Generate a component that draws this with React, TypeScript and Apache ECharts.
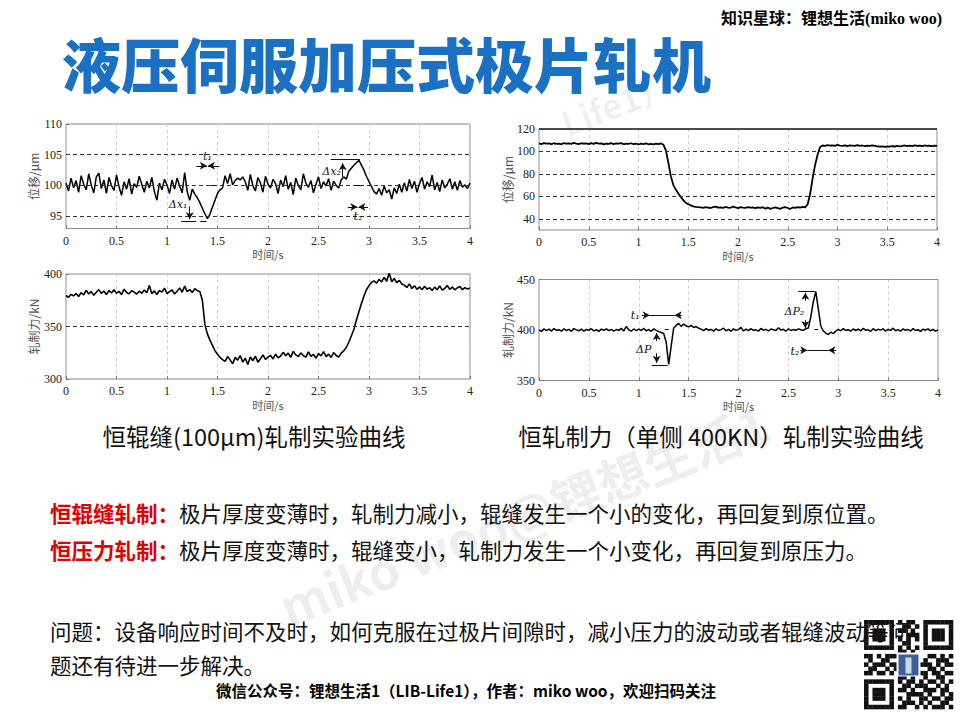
import React, { useEffect, useRef } from "react";
import * as echarts from "echarts";

// ---------- data ----------
const sampleStep = 0.025; // s between samples, t = 0 … 4 s
const timeMin = 0;
const timeMax = 4;
const timeInterval = 0.5;

// 恒辊缝 : 位移 / μm
const gapModeDisp = [
  100.4, 99.1, 101.2, 99.6, 100.8, 98.9, 101.6, 100.2, 99.3, 101.9,
  100.1, 98.8, 101.4, 102.0, 99.5, 100.9, 98.7, 101.3, 100.0, 99.2,
  101.7, 99.8, 98.4, 100.6, 99.4, 101.1, 98.6, 100.3, 99.7, 101.5,
  100.2, 98.9, 100.7, 99.6, 101.3, 99.0, 97.6, 100.4, 99.3, 101.0,
  100.1, 98.7, 100.9, 99.4, 101.2, 99.9, 98.8, 102.1,
  99.0, 97.6, 99.4, 98.6, 98.0, 97.2, 96.3, 95.4, 94.6, 95.3,
  96.5, 97.6, 98.7, 99.3, 99.6, 101.6, 100.3, 101.9, 100.1, 100.8,
  101.2, 100.9, 101.4, 100.6, 99.2,
  101.8, 100.0, 99.1, 101.3, 100.4, 98.9, 101.5, 100.2, 99.6, 101.0,
  100.3, 98.7, 100.9, 99.8, 101.6, 99.4, 100.5, 98.5, 101.2, 100.0,
  99.3, 101.9, 100.4, 99.7, 100.8, 98.8, 100.2, 101.4, 99.5, 100.6,
  99.9, 101.1, 99.2, 100.7, 100.0,
  99.6, 100.9, 101.4, 101.0, 102.3, 102.8, 103.3, 103.7, 104.1, 103.3,
  102.5, 101.5, 100.6, 99.8, 99.0, 98.6,
  99.5, 98.4, 99.9, 98.8, 99.3, 97.8, 99.6, 98.7, 100.2, 98.9,
  100.4, 99.1, 101.0, 99.5, 100.7, 98.9, 100.3, 101.3, 99.4, 100.6,
  99.8, 101.7, 99.3, 100.5, 99.0, 100.9, 99.6, 100.2, 101.1, 99.4,
  100.6, 99.2, 100.8, 99.7, 100.1, 99.5, 100.4,
];

// 恒轧制力 : 位移 / μm
const forceModeDisp = [
  107.2, 106.6, 107.4, 106.9, 107.1, 106.5, 107.3, 106.8, 107.0, 106.4,
  107.5, 106.9, 107.2, 106.7, 107.6, 107.0, 106.6, 107.3, 106.9, 107.1,
  106.5, 107.4, 106.8, 107.7, 106.9, 107.2, 106.3, 107.0, 106.8, 107.4,
  106.6, 107.1, 106.9, 107.5, 106.4, 107.0, 106.7, 107.3, 106.5, 107.0,
  106.2, 106.9, 106.6, 107.1, 106.4, 106.8, 106.3, 106.9, 106.5, 107.2,
  106.0,
  101.0, 90.0, 78.0, 70.0, 66.0, 62.5, 59.5, 56.5, 54.3, 53.0,
  52.0, 51.0, 50.6, 50.3,
  50.1, 49.8, 50.4, 50.0, 49.6, 50.3, 50.8, 49.9, 50.2, 49.7,
  50.5, 50.0, 49.8, 50.9, 50.1, 49.5, 50.3, 50.0, 49.8, 50.4,
  49.9, 50.2, 49.4, 50.1, 49.7, 50.3, 49.0, 50.0, 48.8, 49.6,
  50.2, 49.5, 48.9, 49.9, 50.3, 49.6, 48.7, 50.1, 49.8, 50.4,
  49.9, 50.6, 50.2,
  53.0, 62.0, 76.0, 88.0, 97.0, 104.0, 105.3, 105.0,
  105.6, 105.1, 105.4, 104.9, 105.8, 105.2, 105.0, 105.5, 104.8, 105.3,
  105.1, 104.9, 105.6, 105.0, 105.3, 104.7, 105.2, 104.9, 105.4, 105.0,
  104.6, 104.2, 104.5, 104.0, 104.6, 104.3, 104.8, 104.4, 105.0, 104.6,
  104.9, 105.3, 104.7, 105.1, 104.8, 105.4, 104.9, 105.2, 104.7, 105.3,
  104.9, 105.2, 104.8, 105.1, 105.0,
];

// 恒辊缝 : 轧制力 / kN
const gapModeForce = [
  379.5, 377.8, 380.6, 379.2, 381.4, 378.6, 382.3, 380.1, 384.5, 381.0,
  383.2, 379.8, 382.6, 385.1, 381.5, 383.8, 380.4, 384.2, 382.0, 384.9,
  381.7, 383.5, 380.3, 385.6, 382.4, 381.1, 384.0, 382.8, 380.9, 383.6,
  381.6, 384.7, 382.1, 389.0, 381.2, 383.9, 380.5, 384.3, 382.7, 386.5,
  381.4, 383.2, 384.8, 380.9, 383.5, 386.8, 382.6, 388.4, 383.1, 385.2,
  382.4, 386.0, 384.1, 383.4,
  375.0, 352.0, 343.0, 337.0, 332.0, 327.0, 323.5, 320.5, 318.5,
  316.8, 321.4, 318.2, 314.5, 320.6, 317.9, 322.3, 316.1, 319.7, 313.8,
  320.9, 317.4, 321.8, 315.9, 319.3, 323.0, 318.6, 320.8, 322.4, 319.1,
  323.6, 320.2, 321.9, 325.4, 322.1, 324.7, 320.6, 326.3, 323.0, 321.5,
  324.9, 322.2, 320.8, 325.8, 321.6, 323.4, 319.9, 324.1, 322.0, 326.0,
  321.3, 323.7, 320.5, 325.2, 322.4, 321.0, 324.6, 326.8,
  330.0, 335.0, 341.0, 347.0, 356.0, 364.0, 372.0, 379.0, 385.0, 389.0,
  392.0,
  393.5, 391.2, 395.0, 392.4, 396.8, 393.1, 401.0, 392.6, 395.7, 391.8,
  393.9, 390.5, 389.4, 387.2, 390.6, 386.1, 388.9, 385.4, 387.8, 384.9,
  388.3, 385.6, 386.9, 384.2, 387.5, 385.0, 388.7, 384.6, 386.3, 389.1,
  385.4, 387.6, 384.8, 386.9, 388.2, 385.1, 387.0, 385.8, 386.6,
];

// 恒轧制力 : 轧制力 / kN
const forceModeForce = [
  400.2, 398.6, 401.1, 399.4, 400.8, 398.9, 401.5, 399.7, 400.3, 398.8,
  401.2, 399.5, 400.6, 398.7, 401.4, 400.1, 399.2, 401.0, 398.9, 400.5,
  399.8, 401.3, 399.0, 400.4, 398.6, 400.9, 399.6, 401.2, 399.3, 400.7,
  398.8, 400.5, 399.7, 401.6, 399.1, 403.5, 400.2, 398.9, 401.0, 399.4,
  400.8, 399.5, 401.7, 399.1, 400.5, 398.7, 401.2, 399.6,
  398.4, 397.5, 396.5, 388.0, 366.0, 384.0, 402.0, 404.5, 406.5, 403.6,
  405.8, 404.2, 403.1, 404.6, 402.5, 403.4, 401.8,
  400.9, 399.3, 401.4, 399.8, 400.6, 398.9, 401.2, 399.5, 400.3, 401.8,
  399.2, 400.7, 398.8, 401.1, 399.6, 400.4, 402.6, 399.0, 400.8, 399.4,
  401.3, 399.7, 400.2, 398.9, 401.5, 399.8, 400.6, 399.1, 401.0, 400.3,
  399.4, 402.3, 399.9, 400.7, 398.8, 401.2, 399.5, 400.4, 399.7, 401.1,
  400.2, 399.6, 401.3,
  402.0, 413.0, 428.0, 438.0, 421.0, 404.0, 399.0, 397.0, 395.5, 397.8,
  396.4,
  398.9, 400.6, 399.2, 401.4, 399.7, 400.3, 398.8, 401.0, 399.5, 400.9,
  399.1, 401.6, 399.8, 400.2, 398.7, 401.3, 399.4, 400.7, 399.9, 401.1,
  398.9, 400.5, 399.6, 401.8, 399.3, 400.4, 398.8, 401.2, 399.7, 400.6,
  399.0, 401.4, 399.5, 400.3, 398.6, 400.9, 399.8, 401.1, 399.2, 400.6,
  398.9, 400.1,
];

// axis ranges and tick labels
const gapDispRange = [93, 110];
const gapDispTicks = [95, 100, 105, 110];
const gapDispRefLines = [95, 100, 105];

const forceDispRange = [30, 120];
const forceDispTicks = [40, 60, 80, 100, 120];
const forceDispRefLines = [40, 60, 80, 100];

const gapForceRange = [300, 400];
const gapForceTicks = [300, 350, 400];
const gapForceRefLines = [350];

const forceForceRange = [350, 450];
const forceForceTicks = [350, 400, 450];
const forceForceRefLines: number[] = [];

// texts
const pageTitle = "液压伺服加压式极片轧机";
const topNote = "知识星球：锂想生活(miko woo)";
const captionLeft = "恒辊缝(100μm)轧制实验曲线";
const captionRight = "恒轧制力（单侧 400KN）轧制实验曲线";
const line1Label = "恒辊缝轧制：";
const line1Text = "极片厚度变薄时，轧制力减小，辊缝发生一个小的变化，再回复到原位置。";
const line2Label = "恒压力轧制：";
const line2Text = "极片厚度变薄时，辊缝变小，轧制力发生一个小变化，再回复到原压力。";
const question1 = "问题：设备响应时间不及时，如何克服在过极片间隙时，减小压力的波动或者辊缝波动等问";
const question2 = "题还有待进一步解决。";
const footer = "微信公众号：锂想生活1（LIB-Life1），作者：miko woo，欢迎扫码关注";

const qrRows = [
  "111111101011001111111",
  "100000100110101000001",
  "101110101101001011101",
  "101110100011101011101",
  "101110101010101011101",
  "100000100110001000001",
  "111111101010101111111",
  "000000001101000000000",
  "110101110110100110101",
  "010011001011101001110",
  "101110110100011101011",
  "011001011011100110100",
  "110110100101011011011",
  "000000001101001001100",
  "111111101011010110101",
  "100000100110111001010",
  "101110101101001110110",
  "101110100011110100101",
  "101110101010011011011",
  "100000100111010100110",
  "111111101100101011101",
];

// ---------- helpers ----------
const SERIF = '"Liberation Serif", "DejaVu Serif", serif';
const CJK = '"Noto Sans CJK SC", "Noto Sans", sans-serif';

function toPairs(values: number[]) {
  return values.map((v, i) => [Number((i * sampleStep).toFixed(3)), v]);
}

function seg(a: number[], b: number[], arrow = false) {
  return [
    { coord: a, symbol: "none" },
    { coord: b, symbol: arrow ? "arrow" : "none" },
  ];
}

function refLines(levels: number[]) {
  return levels.map((v) => ({
    yAxis: v,
    lineStyle: { type: [4, 3], color: "#333", width: 1 },
  }));
}

function makeSeries(
  idx: number,
  values: number[],
  levels: number[],
  extraLines: any[],
  labels: { name: string; coord: number[] }[],
  width: number
) {
  return {
    type: "line",
    xAxisIndex: idx,
    yAxisIndex: idx,
    data: toPairs(values),
    showSymbol: false,
    symbol: "none",
    lineStyle: { color: "#000", width },
    z: 3,
    markLine: {
      silent: true,
      symbol: ["none", "none"],
      symbolSize: [6, 7],
      label: { show: false },
      lineStyle: { type: "solid", color: "#111", width: 1 },
      data: [...refLines(levels), ...extraLines],
    },
    markPoint: {
      silent: true,
      symbol: "circle",
      symbolSize: 0,
      label: {
        show: true,
        position: "inside",
        formatter: "{b}",
        fontFamily: '"DejaVu Serif", "Liberation Serif", serif',
        fontStyle: "italic",
        fontSize: 11,
        color: "#111",
      },
      data: labels,
    },
  };
}

function xAxisFor(idx: number) {
  return {
    gridIndex: idx,
    type: "value",
    min: timeMin,
    max: timeMax,
    interval: timeInterval,
    axisLine: { show: false },
    axisTick: { show: true, inside: true, length: 3, lineStyle: { color: "#777" } },
    axisLabel: { color: "#222", fontFamily: SERIF, fontSize: 12, margin: 6 },
    splitLine: { show: true, lineStyle: { type: [3, 3], color: "#cfcfcf", width: 1 } },
    name: "时间/s",
    nameLocation: "middle",
    nameGap: 20,
    nameTextStyle: { fontFamily: CJK, fontSize: 11, color: "#555" },
  };
}

function yAxisFor(idx: number, range: number[], ticks: number[], name: string, gap: number) {
  return {
    gridIndex: idx,
    type: "value",
    min: range[0],
    max: range[1],
    axisLine: { show: false },
    axisTick: { show: true, inside: true, length: 3, customValues: ticks, lineStyle: { color: "#777" } },
    axisLabel: { color: "#222", fontFamily: SERIF, fontSize: 12, margin: 4, customValues: ticks },
    splitLine: { show: false },
    name,
    nameLocation: "middle",
    nameGap: gap,
    nameTextStyle: { fontFamily: CJK, fontSize: 12, color: "#555" },
  };
}

function buildQr(x: number, y: number, size: number) {
  const n = qrRows.length;
  const m = size / n;
  const children: any[] = [];
  qrRows.forEach((row, r) => {
    row.split("").forEach((c, col) => {
      if (c === "1") {
        children.push({
          type: "rect",
          shape: { x: col * m, y: r * m, width: m + 0.3, height: m + 0.3 },
          style: { fill: "#111" },
        });
      }
    });
  });
  children.push({
    type: "rect",
    shape: { x: size / 2 - 12, y: size / 2 - 12, width: 24, height: 24 },
    style: { fill: "#fff" },
  });
  children.push({
    type: "rect",
    shape: { x: size / 2 - 10, y: size / 2 - 10, width: 20, height: 21 },
    style: { fill: "#3d5f96" },
  });
  children.push({
    type: "rect",
    shape: { x: size / 2 - 3, y: size / 2 - 7, width: 6, height: 16 },
    style: { fill: "#cfd8e6" },
  });
  return { type: "group", x, y, children, z: 5 };
}

// ---------- component ----------
export default function App() {
  const ref = useRef<HTMLDivElement>(null);

  useEffect(() => {
    document.body.style.margin = "0";
    const chart = echarts.init(ref.current!, null, { renderer: "svg" });

    const gridBase = { show: true, borderColor: "#8a8a8a", borderWidth: 1, backgroundColor: "transparent" };

    const series = [
      makeSeries(
        0,
        gapModeDisp,
        gapDispRefLines,
        [
          seg([1.29, 103.2], [1.395, 103.2], true),
          seg([1.52, 103.2], [1.405, 103.2], true),
          seg([1.14, 94.2], [1.29, 94.2]),
          seg([1.33, 94.2], [1.39, 94.2]),
          seg([1.225, 96.6], [1.225, 94.5], true),
          seg([1.43, 100], [1.48, 100]),
          seg([2.62, 104.2], [2.91, 104.2]),
          seg([2.74, 101.4], [2.74, 103.6], true),
          seg([2.79, 96.5], [2.885, 96.5], true),
          seg([2.99, 96.5], [2.895, 96.5], true),
          seg([2.86, 100], [2.92, 100]),
        ],
        [
          { name: "t₁", coord: [1.4, 104.7] },
          { name: "Δx₁", coord: [1.11, 96.9] },
          { name: "Δx₂", coord: [2.63, 102.3] },
          { name: "t₂", coord: [2.89, 94.9] },
        ],
        1.5
      ),
      makeSeries(1, forceModeDisp, forceDispRefLines, [
        { yAxis: 120, lineStyle: { type: "solid", color: "#222", width: 1.6 } },
      ], [], 1.8),
      makeSeries(2, gapModeForce, gapForceRefLines, [], [], 1.6),
      makeSeries(
        3,
        forceModeForce,
        forceForceRefLines,
        [
          seg([1.03, 414.5], [1.11, 414.5], true),
          seg([1.11, 414.5], [1.36, 414.5]),
          seg([1.43, 414.5], [1.36, 414.5], true),
          seg([1.18, 389], [1.18, 397], true),
          seg([1.18, 377], [1.18, 367.5], true),
          seg([1.13, 365], [1.29, 365]),
          seg([1.26, 400.5], [1.3, 400.5]),
          seg([2.6, 438.5], [2.77, 438.5]),
          seg([2.67, 429], [2.67, 437], true),
          seg([2.67, 410], [2.67, 402], true),
          seg([2.76, 400.5], [2.8, 400.5]),
          seg([2.62, 380], [2.69, 380], true),
          seg([2.69, 380], [2.9, 380]),
          seg([2.98, 380], [2.9, 380], true),
        ],
        [
          { name: "t₁", coord: [0.965, 414.5] },
          { name: "ΔP", coord: [1.05, 380.5] },
          { name: "ΔP₂", coord: [2.56, 418] },
          { name: "t₂", coord: [2.565, 378.5] },
        ],
        1.5
      ),
    ];

    const graphics: any[] = [
      {
        type: "text",
        x: 272,
        y: 584,
        rotation: 0.37,
        silent: true,
        z: -1,
        style: { text: "miko woo@锂想生活1", font: `bold 50px ${CJK}`, fill: "rgba(0,0,0,0.065)" },
      },
      {
        type: "text",
        x: 556,
        y: 108,
        rotation: 0.37,
        silent: true,
        z: -1,
        style: { text: "Life1）", font: `bold 34px ${CJK}`, fill: "rgba(0,0,0,0.06)" },
      },
      {
        type: "text",
        x: 62,
        y: 62,
        style: {
          text: pageTitle,
          font: `900 59px ${CJK}`,
          fill: "#1a70c2",
          textAlign: "left",
          textVerticalAlign: "middle",
        },
      },
      {
        type: "text",
        x: 942,
        y: 18,
        style: {
          text: topNote,
          font: `bold 16px ${SERIF}, ${CJK}`,
          fill: "#000",
          textAlign: "right",
          textVerticalAlign: "middle",
        },
      },
      {
        type: "text",
        x: 254,
        y: 436,
        style: { text: captionLeft, font: `23.5px ${CJK}`, fill: "#111", textAlign: "center", textVerticalAlign: "middle" },
      },
      {
        type: "text",
        x: 721,
        y: 436,
        style: { text: captionRight, font: `23.5px ${CJK}`, fill: "#111", textAlign: "center", textVerticalAlign: "middle" },
      },
      {
        type: "text",
        x: 50,
        y: 512,
        style: {
          text: `{r|${line1Label}}{b|${line1Text}}`,
          textAlign: "left",
          textVerticalAlign: "middle",
          rich: {
            r: { fill: "#e00000", fontWeight: "bold", fontSize: 21.5, fontFamily: CJK },
            b: { fill: "#111", fontSize: 21.5, fontFamily: CJK },
          },
        },
      },
      {
        type: "text",
        x: 50,
        y: 549,
        style: {
          text: `{r|${line2Label}}{b|${line2Text}}`,
          textAlign: "left",
          textVerticalAlign: "middle",
          rich: {
            r: { fill: "#e00000", fontWeight: "bold", fontSize: 21.5, fontFamily: CJK },
            b: { fill: "#111", fontSize: 21.5, fontFamily: CJK },
          },
        },
      },
      buildQr(864, 620, 89),
      {
        type: "text",
        x: 50,
        y: 630,
        z: 10,
        style: { text: question1, font: `21.5px ${CJK}`, fill: "#111", textAlign: "left", textVerticalAlign: "middle" },
      },
      {
        type: "text",
        x: 50,
        y: 664,
        style: { text: question2, font: `21.5px ${CJK}`, fill: "#111", textAlign: "left", textVerticalAlign: "middle" },
      },
      {
        type: "text",
        x: 466,
        y: 690,
        style: { text: footer, font: `bold 15.5px ${CJK}`, fill: "#000", textAlign: "center", textVerticalAlign: "middle" },
      },
    ];

    chart.setOption({
      animation: false,
      backgroundColor: "#ffffff",
      grid: [
        { ...gridBase, left: 66, top: 124, width: 404, height: 104.5 },
        { ...gridBase, left: 539, top: 129, width: 398, height: 101 },
        { ...gridBase, left: 66, top: 274, width: 404, height: 105 },
        { ...gridBase, left: 539, top: 279.5, width: 399, height: 101 },
      ],
      xAxis: [0, 1, 2, 3].map((i) => xAxisFor(i)),
      yAxis: [
        yAxisFor(0, gapDispRange, gapDispTicks, "位移/μm", 27),
        yAxisFor(1, forceDispRange, forceDispTicks, "位移/μm", 25),
        yAxisFor(2, gapForceRange, gapForceTicks, "轧制力/kN", 27),
        yAxisFor(3, forceForceRange, forceForceTicks, "轧制力/kN", 25),
      ],
      series,
      graphic: { elements: graphics },
    });

    return () => chart.dispose();
  }, []);

  return <div ref={ref} style={{ width: 960, height: 720 }} />;
}
